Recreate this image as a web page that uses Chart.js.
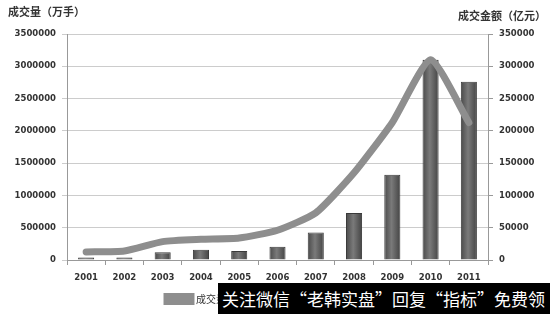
<!DOCTYPE html>
<html>
<head>
<meta charset="utf-8">
<script src="https://cdn.jsdelivr.net/npm/chart.js@4"></script>
<style>
  body { margin: 0; background: #fff; }
  #wrap { position: relative; width: 550px; height: 314px; }
  #mark {
    position: absolute; left: 218px; top: 283px; width: 332px; height: 31px;
    background: #000; color: #fff; font: 17px "Noto Sans CJK SC", sans-serif;
    line-height: 31px; white-space: nowrap; padding-left: 4px; box-sizing: border-box;
    overflow: hidden;
  }
</style>
</head>
<body>
<div id="wrap">
  <canvas id="c" width="550" height="314"></canvas>
  <div id="mark">关注微信“老韩实盘”回复“指标”免费领</div>
</div>
<script>
// data
const years = ['2001', '2002', '2003', '2004', '2005', '2006', '2007', '2008', '2009', '2010', '2011'];
const amountBars = [40000, 40000, 120000, 160000, 140000, 207000, 425000, 727000, 1319000, 3100000, 2760000];
const volumeLine = [12500, 14000, 28500, 32000, 34000, 46000, 73000, 135000, 213000, 310000, 213000];
const leftTicks = [0, 500000, 1000000, 1500000, 2000000, 2500000, 3000000, 3500000];
const rightTicks = [0, 50000, 100000, 150000, 200000, 250000, 300000, 350000];

const tickFont = { family: 'DejaVu Sans', size: 8.5, weight: 'bold' };

function barFill(ctx) {
  const chart = ctx.chart;
  if (!chart.chartArea) return '#5a5a5a';
  const x = chart.scales.x.getPixelForValue(ctx.dataIndex);
  const g = chart.ctx.createLinearGradient(x - 8, 0, x + 8, 0);
  g.addColorStop(0, '#4a4a4a');
  g.addColorStop(0.45, '#7a7a7a');
  g.addColorStop(1, '#444');
  return g;
}

// axis titles drawn horizontally above each y axis
const titles = {
  id: 'titles',
  afterDraw(chart) {
    const c = chart.ctx;
    c.save();
    c.fillStyle = '#333';
    c.font = 'bold 11px "Noto Sans CJK SC"';
    c.textBaseline = 'middle';
    c.textAlign = 'left';
    c.fillText('成交量（万手）', 8, 12);
    c.textAlign = 'right';
    c.fillText('成交金额（亿元）', 546, 16);
    c.restore();
  }
};

const plain = v => String(v);

new Chart(document.getElementById('c'), {
  data: {
    labels: years,
    datasets: [
      {
        type: 'bar',
        label: '成交金额（亿元）',
        data: amountBars,
        yAxisID: 'y',
        backgroundColor: barFill,
        borderColor: '#3a3a3a',
        borderWidth: 1,
        barPercentage: 0.42,
        categoryPercentage: 1,
        order: 1
      },
      {
        type: 'line',
        label: '成交量（万手）',
        data: volumeLine,
        yAxisID: 'y1',
        borderColor: '#8e8e8e',
        backgroundColor: '#8e8e8e',
        borderWidth: 7,
        pointRadius: 0,
        tension: 0.18,
        borderCapStyle: 'round',
        order: 0
      }
    ]
  },
  options: {
    responsive: false,
    animation: false,
    layout: { padding: { top: 34, left: 0, right: 0, bottom: 0 } },
    plugins: {
      tooltip: { enabled: false },
      legend: {
        position: 'bottom',
        align: 'center',
        labels: {
          boxWidth: 24, boxHeight: 5, color: '#333',
          font: { family: 'Noto Sans CJK SC', size: 10 },
          padding: 8
        }
      }
    },
    scales: {
      x: {
        offset: true,
        grid: { offset: true, drawOnChartArea: false, color: '#999', tickLength: 5 },
        border: { color: '#999' },
        ticks: { color: '#333', font: tickFont, padding: 8, maxRotation: 0 },
        afterFit: s => { s.height = 26; }
      },
      y: {
        position: 'left',
        min: 0, max: 3500000,
        afterBuildTicks: s => { s.ticks = leftTicks.map(v => ({ value: v })); },
        grid: { color: '#cccccc', tickLength: 5 },
        border: { color: '#999' },
        ticks: { color: '#333', font: tickFont, padding: 6, callback: plain },
        afterFit: s => { s.width = 67; }
      },
      y1: {
        position: 'right',
        min: 0, max: 350000,
        afterBuildTicks: s => { s.ticks = rightTicks.map(v => ({ value: v })); },
        grid: { drawOnChartArea: false, color: '#999', tickLength: 5 },
        border: { color: '#999' },
        ticks: { color: '#333', font: tickFont, padding: 6, callback: plain },
        afterFit: s => { s.width = 62; }
      }
    }
  },
  plugins: [titles]
});
</script>
</body>
</html>
